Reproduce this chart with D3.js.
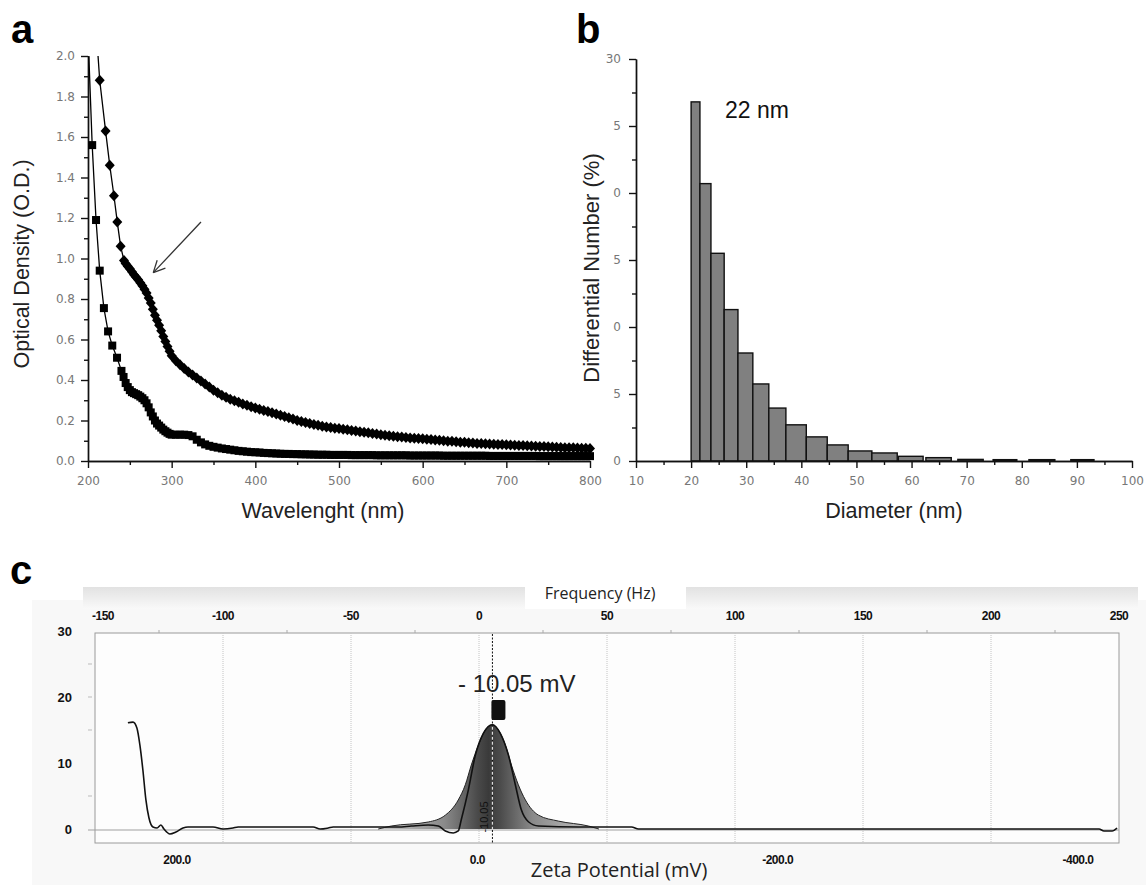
<!DOCTYPE html>
<html><head><meta charset="utf-8">
<script src="https://cdn.jsdelivr.net/npm/d3@7"></script>
<style>
body{margin:0;background:#fff;}
svg{display:block;}
.tk text{font-family:"DejaVu Sans",sans-serif;font-size:12px;fill:#777;}
.tk path,.tk line{stroke:#111;stroke-width:1.4px;}
</style></head>
<body>
<svg id="chart" width="1146" height="885"></svg>
<script>
// ---------- Panel a data (UV-Vis) ----------
const waveUpper = [212,214,221,226,231,235,239,243,245,247.5,250,252.5,255,257.5,260,262.5,265,267.5,270,272.5,275,277.5,280,282.5,285,287.5,290,292.5,295,297.5,
  300,305,310,315,320,325,330,335,340,345,350,355,360,365,370,375,380,385,390,395,400,405,410,415,420,425,430,435,440,445,450,455,460,465,470,475,480,485,490,495,
  500,505,510,515,520,525,530,535,540,545,550,555,560,565,570,575,580,585,590,595,600,605,610,615,620,625,630,635,640,645,650,655,660,665,670,675,680,685,690,695,
  700,705,710,715,720,725,730,735,740,745,750,755,760,765,770,775,780,785,790,795,800];
const odUpper = [2.0,1.88,1.63,1.46,1.31,1.18,1.06,0.99,0.975,0.962,0.95,0.935,0.92,0.907,0.895,0.88,0.865,0.848,0.83,0.805,0.78,0.75,0.72,0.695,0.67,0.643,0.615,0.59,0.565,0.542,
  0.52,0.495,0.475,0.457,0.44,0.425,0.41,0.395,0.38,0.365,0.35,0.337,0.325,0.315,0.305,0.297,0.29,0.282,0.275,0.268,0.262,0.256,0.25,0.244,0.238,0.232,0.226,0.22,0.214,0.207,0.2,0.195,0.19,0.185,0.18,0.176,0.172,0.168,0.165,0.162,
  0.16,0.157,0.154,0.151,0.148,0.145,0.142,0.139,0.136,0.133,0.13,0.127,0.125,0.122,0.12,0.118,0.116,0.114,0.112,0.111,0.11,0.108,0.106,0.104,0.102,0.1,0.098,0.097,0.095,0.093,0.092,0.09,0.089,0.087,0.086,0.085,0.084,0.083,0.082,0.081,
  0.08,0.079,0.078,0.077,0.076,0.075,0.074,0.073,0.072,0.071,0.07,0.069,0.068,0.067,0.066,0.066,0.065,0.064,0.063,0.063,0.062];
const waveLower = [201,205,209.6,214,219,224,229,234.7,240,242.5,245,247.5,250,252.5,255,257.5,260,262.5,265,267.5,270,272.5,275,277.5,280,282.5,285,287.5,290,292.5,295,297.5,
  300,305,310,315,320,325,330,335,340,345,350,355,360,365,370,375,380,385,390,395,400,405,410,415,420,425,430,435,440,445,450,455,460,465,470,475,480,485,490,495,
  500,505,510,515,520,525,530,535,540,545,550,555,560,565,570,575,580,585,590,595,600,605,610,615,620,625,630,635,640,645,650,655,660,665,670,675,680,685,690,695,
  700,705,710,715,720,725,730,735,740,745,750,755,760,765,770,775,780,785,790,795,800];
const odLower = [2.0,1.56,1.19,0.94,0.755,0.64,0.57,0.51,0.445,0.415,0.385,0.365,0.35,0.34,0.335,0.33,0.325,0.318,0.31,0.3,0.285,0.265,0.24,0.22,0.2,0.185,0.175,0.165,0.155,0.147,0.14,0.134,
  0.13,0.13,0.13,0.13,0.128,0.122,0.105,0.092,0.082,0.075,0.07,0.066,0.062,0.059,0.056,0.053,0.05,0.048,0.046,0.044,0.043,0.042,0.04,0.039,0.038,0.037,0.036,0.035,0.035,0.034,0.034,0.033,0.033,0.032,0.032,0.031,0.031,0.031,0.03,0.03,
  0.03,0.03,0.03,0.029,0.029,0.029,0.029,0.029,0.029,0.028,0.028,0.028,0.028,0.028,0.028,0.028,0.028,0.027,0.027,0.027,0.027,0.027,0.027,0.027,0.027,0.026,0.026,0.026,0.026,0.026,0.026,0.026,0.026,0.026,0.026,0.026,0.025,0.025,0.025,0.025,
  0.025,0.025,0.025,0.025,0.025,0.025,0.025,0.025,0.024,0.024,0.024,0.024,0.024,0.024,0.024,0.024,0.024,0.024,0.024,0.024,0.024];
const aYTicks = [0,0.2,0.4,0.6,0.8,1.0,1.2,1.4,1.6,1.8,2.0];
const aXTicks = [200,300,400,500,600,700,800];

// ---------- Panel b data (size distribution) ----------
const binStart = [20,21.6,23.6,26,28.5,31.2,34.1,37.2,40.9,44.7,48.5,52.8,57.6,62.6,68.4,74.8,81.3,88.9];
const binEnd   = [21.6,23.6,26,28.5,31.2,34.1,37.2,40.9,44.7,48.5,52.8,57.4,62.1,67.2,73,79.1,86,93.1];
const diffNumber = [26.8,20.7,15.5,11.3,8.06,5.75,3.95,2.7,1.8,1.2,0.75,0.6,0.35,0.25,0.12,0.1,0.1,0.1];
const bYTicks = [0,5,10,15,20,25,30];
const bYTickLabels = ["0","5","0","5","0","5","30"];
const bXTicks = [10,20,30,40,50,60,70,80,90,100];

// ---------- Panel c data (zeta potential) ----------
const zetaLineMv = [232.7,229.3,226.7,224.7,222.7,220.7,218.7,216,213.3,210.7,208.7,204.7,200.7,196,192.7,176,169.3,162.7,159.3,109.3,104.7,99.3,96,52.7,44,32.7,26,21.3,16,12.7,10.7,6,1.3,-4,-10.05,-15.3,-20.7,-25.3,-29.3,-34,-40.7,-67.3,-76,-102.7,-107.3,-147,-414,-417.3,-422.7,-426];
const zetaLineVal = [16.1,16.2,15.3,12.7,8.9,4.4,1.7,0.3,0.15,0.6,0,-0.75,-0.45,0.15,0.3,0.3,0,0.15,0.3,0.3,0,0.15,0.3,0.3,0.45,0.6,0.45,-0.3,-0.6,-0.3,1.4,5.9,11.2,14.5,15.8,14.5,11.2,6.7,2.9,1.1,0.45,0.3,0.3,0.3,0,0,0,-0.3,-0.3,0.15];
const zetaDistMv = [66,57.3,32.7,21.3,12.7,8,4,-0.7,-5.3,-10.05,-14,-18.7,-22.7,-27.3,-32,-40.7,-54,-74,-81];
const zetaDistVal = [0,0.45,1.06,2.1,4.4,6.7,9.7,12.7,15,15.8,15,12.7,9.7,6.7,4.4,2.1,1.2,0.45,0];
const freqTicks = [-150,-100,-50,0,50,100,150,200,250];
const freqGrid = [-100,-50,0,50,100,150,200];
const zetaTicks = [200,0,-200,-400];
const zetaTickLabels = ["200.0","0.0","-200.0","-400.0"];
const cYTicks = [0,10,20,30];
const peakZeta = -10.05;

const FONT = "Liberation Sans, Arial, sans-serif";
const svg = d3.select("#chart");
svg.append("rect").attr("width",1146).attr("height",885).attr("fill","#fff");
const defs = svg.append("defs");

// ================= Panel a =================
const xA = d3.scaleLinear().domain([200,800]).range([88,590]);
const yA = d3.scaleLinear().domain([0,2]).range([461,56]);
const gA = svg.append("g");
defs.append("clipPath").attr("id","clipA").append("rect")
  .attr("x",86).attr("y",56).attr("width",512).attr("height",410);

gA.append("g").attr("class","tk").attr("transform","translate(0,461)")
  .call(d3.axisBottom(xA).tickValues(d3.range(250,800,100)).tickSize(4).tickSizeOuter(0).tickFormat(""));
gA.append("g").attr("class","tk").attr("transform","translate(0,461)")
  .call(d3.axisBottom(xA).tickValues(aXTicks).tickSize(7).tickSizeOuter(0).tickPadding(8));
gA.append("g").attr("class","tk").attr("transform","translate(88,0)")
  .call(d3.axisLeft(yA).tickValues(d3.range(0.1,2,0.2)).tickSize(4).tickSizeOuter(0).tickFormat(""));
gA.append("g").attr("class","tk").attr("transform","translate(88,0)")
  .call(d3.axisLeft(yA).tickValues(aYTicks).tickFormat(d3.format(".1f")).tickSize(7).tickSizeOuter(0).tickPadding(6));

const plotA = gA.append("g").attr("clip-path","url(#clipA)");
const upper = waveUpper.map((w,i)=>({x:w,y:odUpper[i]}));
const lower = waveLower.map((w,i)=>({x:w,y:odLower[i]}));
const lineA = d3.line().x(d=>xA(d.x)).y(d=>yA(d.y));
plotA.append("path").datum(upper).attr("d",lineA).attr("fill","none").attr("stroke","#000").attr("stroke-width",1.3);
plotA.append("path").datum(lower).attr("d",lineA).attr("fill","none").attr("stroke","#000").attr("stroke-width",1.3);
plotA.selectAll(".dia").data(upper.filter(d=>d.y<1.95)).join("path")
  .attr("d","M0,-5.5L5,0L0,5.5L-5,0Z")
  .attr("transform",d=>`translate(${xA(d.x)},${yA(d.y)})`).attr("fill","#000");
plotA.selectAll(".sq").data(lower.filter(d=>d.y<1.95)).join("rect")
  .attr("x",d=>xA(d.x)-4).attr("y",d=>yA(d.y)-4).attr("width",8).attr("height",8).attr("fill","#000");

// arrow
const ax1 = xA(335), ay1 = yA(1.18), ax2 = xA(278), ay2 = yA(0.93);
gA.append("line").attr("x1",ax1).attr("y1",ay1).attr("x2",ax2).attr("y2",ay2).attr("stroke","#333").attr("stroke-width",1.3);
const ang = Math.atan2(ay1-ay2, ax1-ax2);
[0.45,-0.45].forEach(da=>{
  gA.append("line").attr("x1",ax2).attr("y1",ay2)
    .attr("x2",ax2+13*Math.cos(ang+da)).attr("y2",ay2+13*Math.sin(ang+da))
    .attr("stroke","#333").attr("stroke-width",1.3);
});

gA.append("text").attr("x",11).attr("y",43).text("a")
  .attr("font-family",FONT).attr("font-weight","bold").attr("font-size",40).attr("fill","#000");
gA.append("text").attr("transform","translate(29,264) rotate(-90)").attr("text-anchor","middle")
  .attr("font-family",FONT).attr("font-size",21.5).attr("fill","#222")
  .text("Optical Density  (O.D.)");
gA.append("text").attr("x",323).attr("y",518).attr("text-anchor","middle")
  .attr("font-family",FONT).attr("font-size",21.5).attr("fill","#222")
  .text("Wavelenght (nm)");

// ================= Panel b =================
const xB = d3.scaleLinear().domain([10,100]).range([636,1132]);
const yB = d3.scaleLinear().domain([0,30]).range([461,59]);
const gB = svg.append("g");
gB.selectAll("rect.bar").data(diffNumber).join("rect").attr("class","bar")
  .attr("x",(d,i)=>xB(binStart[i])).attr("width",(d,i)=>xB(binEnd[i])-xB(binStart[i]))
  .attr("y",d=>yB(d)).attr("height",d=>yB(0)-yB(d))
  .attr("fill","#808080").attr("stroke","#111").attr("stroke-width",1.4);
gB.append("g").attr("class","tk").attr("transform","translate(0,461)")
  .call(d3.axisBottom(xB).tickValues(d3.range(15,100,10)).tickSize(4).tickSizeOuter(0).tickFormat(""));
gB.append("g").attr("class","tk").attr("transform","translate(0,461)")
  .call(d3.axisBottom(xB).tickValues(bXTicks).tickSize(7).tickSizeOuter(0).tickPadding(8));
gB.append("g").attr("class","tk").attr("transform","translate(636,0)")
  .call(d3.axisLeft(yB).tickValues(d3.range(2.5,30,5)).tickSize(4).tickSizeOuter(0).tickFormat(""));
gB.append("g").attr("class","tk").attr("transform","translate(636,0)")
  .call(d3.axisLeft(yB).tickValues(bYTicks).tickFormat((d,i)=>bYTickLabels[i]).tickSize(7).tickSizeOuter(0).tickPadding(8));
gB.append("text").attr("x",725).attr("y",118)
  .attr("font-family",FONT).attr("font-size",23).attr("fill","#111").text("22 nm");
gB.append("text").attr("x",576).attr("y",43).text("b")
  .attr("font-family",FONT).attr("font-weight","bold").attr("font-size",40).attr("fill","#000");
gB.append("text").attr("transform","translate(599,268) rotate(-90)").attr("text-anchor","middle")
  .attr("font-family",FONT).attr("font-size",22).attr("fill","#222")
  .text("Differential Number (%)");
gB.append("text").attr("x",894).attr("y",518).attr("text-anchor","middle")
  .attr("font-family",FONT).attr("font-size",21.5).attr("fill","#222")
  .text("Diameter (nm)");

// ================= Panel c =================
const fC = d3.scaleLinear().domain([-150,250]).range([95,1119]);
const zC = d3.scaleLinear().domain([200,-400]).range([177,1078]);
const yC = d3.scaleLinear().domain([0,30]).range([829,631]);
const gC = svg.append("g");
const tg = defs.append("linearGradient").attr("id","topband").attr("x1",0).attr("y1",0).attr("x2",0).attr("y2",1);
tg.append("stop").attr("offset","0%").attr("stop-color","#e2e2e2");
tg.append("stop").attr("offset","100%").attr("stop-color","#f9f9f9");
const pg = defs.append("linearGradient").attr("id","peakfill").attr("gradientUnits","userSpaceOnUse")
  .attr("x1",zC(66)).attr("x2",zC(-81)).attr("y1",0).attr("y2",0);
[["0%","#c8c8c8"],["30%","#8a8a8a"],["45%","#4a4a4a"],["50%","#3a3a3a"],["55%","#4a4a4a"],["70%","#8a8a8a"],["100%","#c8c8c8"]]
  .forEach(s=>pg.append("stop").attr("offset",s[0]).attr("stop-color",s[1]));

gC.append("rect").attr("x",32).attr("y",600).attr("width",1114).attr("height",285).attr("fill","#f8f8f8");
gC.append("rect").attr("x",83).attr("y",587).attr("width",1055).attr("height",22).attr("fill","url(#topband)");
gC.append("rect").attr("x",525).attr("y",586).attr("width",161).attr("height",23).attr("fill","#fff");
gC.append("text").attr("x",600).attr("y",593).attr("dy","0.35em").attr("text-anchor","middle")
  .attr("font-family","Open Sans, sans-serif").attr("font-size",16).attr("fill","#222").text("Frequency (Hz)");
gC.append("rect").attr("x",95).attr("y",633).attr("width",1024).attr("height",210)
  .attr("fill","#fdfdfd").attr("stroke","#9a9a9a").attr("stroke-width",1);

// grid lines
gC.selectAll("line.grid").data(freqGrid).join("line").attr("class","grid")
  .attr("x1",d=>fC(d)).attr("x2",d=>fC(d)).attr("y1",633).attr("y2",843)
  .attr("stroke","#c4c4c4").attr("stroke-width",1).attr("stroke-dasharray","1,1");
// top minor ticks
gC.selectAll("line.tt").data(d3.range(-125,250,50)).join("line").attr("class","tt")
  .attr("x1",d=>fC(d)).attr("x2",d=>fC(d)).attr("y1",630).attr("y2",633).attr("stroke","#aaa");
// frequency labels
gC.selectAll("text.ft").data(freqTicks).join("text").attr("class","ft")
  .attr("x",d=>fC(d)+(d===-150?8:0)).attr("y",616).attr("dy","0.35em").attr("text-anchor","middle")
  .attr("font-family","Liberation Sans Narrow, Liberation Sans, sans-serif").attr("font-weight","bold")
  .attr("font-size",12).attr("letter-spacing","-0.5").attr("fill","#111").text(d=>d);
// y labels
gC.selectAll("text.yt").data(cYTicks).join("text").attr("class","yt")
  .attr("x",72).attr("y",d=>yC(d)).attr("dy","0.35em").attr("text-anchor","end")
  .attr("font-family","Liberation Sans Narrow, Liberation Sans, sans-serif").attr("font-weight","bold")
  .attr("font-size",13).attr("fill","#111").text(d=>d);
gC.selectAll("line.yt").data([5,15,20,25]).join("line").attr("class","yt")
  .attr("x1",88).attr("x2",92).attr("y1",d=>yC(d)).attr("y2",d=>yC(d)).attr("stroke","#bbb");
// zero line
gC.append("line").attr("x1",88).attr("x2",1119).attr("y1",yC(0)+1).attr("y2",yC(0)+1).attr("stroke","#a0a0a0").attr("stroke-width",1.2);
// zeta labels
gC.selectAll("text.zt").data(zetaTicks).join("text").attr("class","zt")
  .attr("x",d=>zC(d)).attr("y",860).attr("dy","0.35em").attr("text-anchor","middle")
  .attr("font-family","Liberation Sans Narrow, Liberation Sans, sans-serif").attr("font-weight","bold")
  .attr("font-size",12).attr("letter-spacing","-0.5").attr("fill","#111").text((d,i)=>zetaTickLabels[i]);

// distribution fill
const dist = zetaDistMv.map((m,i)=>({x:m,y:zetaDistVal[i]}));
const areaC = d3.area().x(d=>zC(d.x)).y0(yC(0)).y1(d=>yC(d.y)).curve(d3.curveMonotoneX);
gC.append("path").datum(dist).attr("d",areaC).attr("fill","url(#peakfill)");
gC.append("path").datum(dist).attr("d",d3.line().x(d=>zC(d.x)).y(d=>yC(d.y)).curve(d3.curveMonotoneX))
  .attr("fill","none").attr("stroke","#222").attr("stroke-width",1);
// peak dotted line
const px = zC(peakZeta);
gC.append("line").attr("x1",px).attr("x2",px).attr("y1",634).attr("y2",843)
  .attr("stroke","#111").attr("stroke-width",1).attr("stroke-dasharray","2,1.5");
gC.append("line").attr("x1",px).attr("x2",px).attr("y1",yC(15.5)).attr("y2",yC(0))
  .attr("stroke","#ddd").attr("stroke-width",1.2).attr("stroke-dasharray","3,2");
// measured line
const lineData = zetaLineMv.map((m,i)=>({x:m,y:zetaLineVal[i]}));
gC.append("path").datum(lineData).attr("d",d3.line().x(d=>zC(d.x)).y(d=>yC(d.y)).curve(d3.curveMonotoneX))
  .attr("fill","none").attr("stroke","#111").attr("stroke-width",1.6);
// marker box
gC.append("rect").attr("x",px-1).attr("y",700).attr("width",14).attr("height",20).attr("rx",2)
  .attr("fill","#111");
gC.append("text").attr("transform",`translate(${px-8},817) rotate(-90)`).attr("text-anchor","middle")
  .attr("dy","0.35em").attr("font-family",FONT).attr("font-size",11).attr("fill","#111").text("-10.05");
gC.append("text").attr("x",458).attr("y",692)
  .attr("font-family",FONT).attr("font-size",24).attr("fill","#222").text("- 10.05 mV");
gC.append("text").attr("x",619).attr("y",877).attr("text-anchor","middle")
  .attr("font-family","Open Sans, sans-serif").attr("font-size",20).attr("fill","#222").text("Zeta Potential (mV)");
gC.append("text").attr("x",10).attr("y",584).text("c")
  .attr("font-family",FONT).attr("font-weight","bold").attr("font-size",40).attr("fill","#000");
</script>
</body></html>
